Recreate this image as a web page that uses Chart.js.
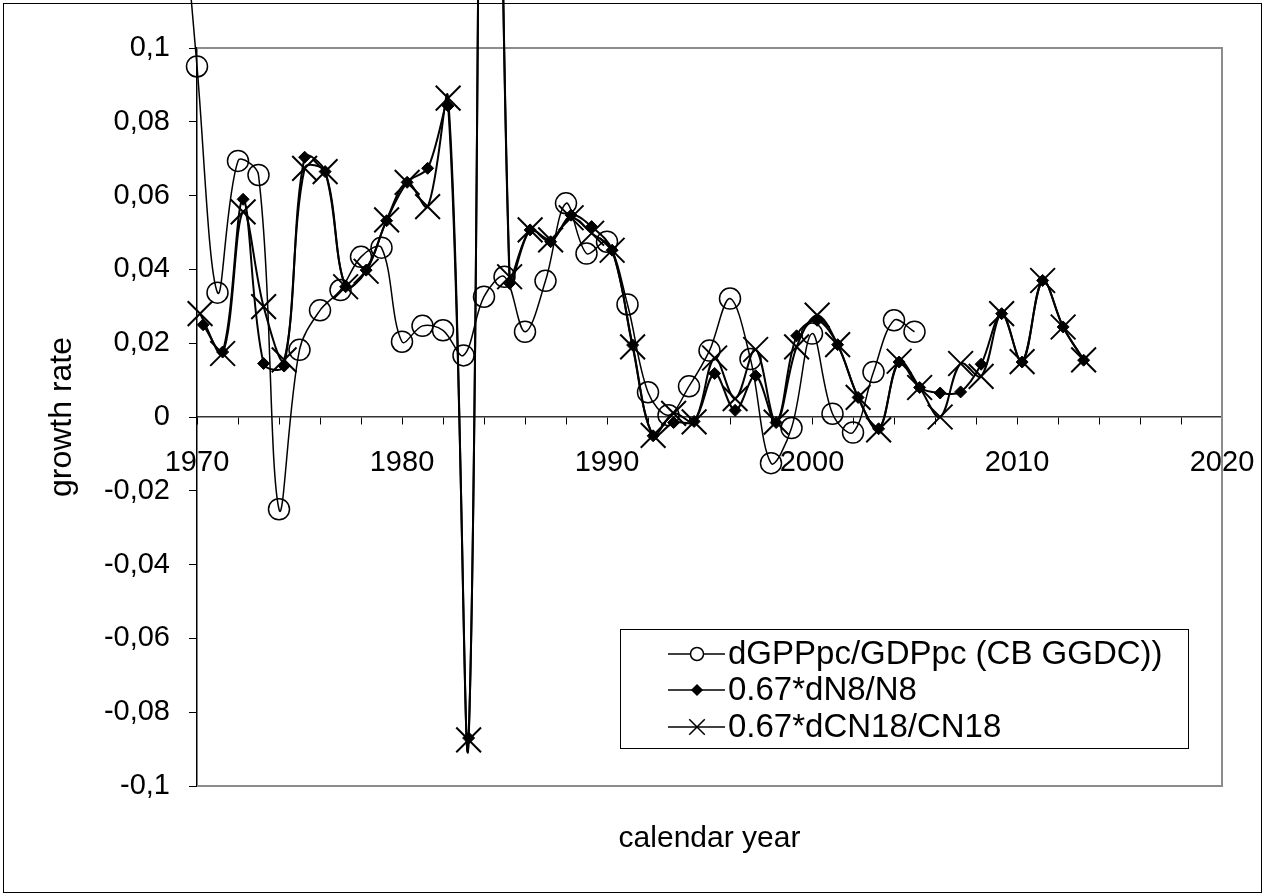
<!DOCTYPE html>
<html>
<head>
<meta charset="utf-8">
<title>growth rate</title>
<script src="https://cdn.jsdelivr.net/npm/chart.js@4.4.1/dist/chart.umd.min.js"></script>
<style>
  html, body { margin: 0; padding: 0; background: #fff; }
  canvas { display: block; }
</style>
</head>
<body>
<canvas id="growthChart" width="1265" height="896"></canvas>
<script>
// GDP per capita growth (CB GGDC), one value per calendar year
var gdpYears = [1969, 1970, 1971, 1972, 1973, 1974, 1975, 1976, 1977, 1978, 1979,
    1980, 1981, 1982, 1983, 1984, 1985, 1986, 1987, 1988, 1989,
    1990, 1991, 1992, 1993, 1994, 1995, 1996, 1997, 1998, 1999,
    2000, 2001, 2002, 2003, 2004, 2005];
var gdpValues = [0.16, 0.095, 0.0337, 0.0694, 0.0656, -0.025, 0.0182, 0.0289, 0.0344, 0.0434, 0.0459,
    0.0204, 0.0247, 0.0235, 0.0167, 0.0326, 0.038, 0.0231, 0.0369, 0.0579, 0.0443,
    0.0475, 0.0305, 0.0067, 0.0005, 0.0083, 0.018, 0.0321, 0.0157, -0.0125, -0.003,
    0.0226, 0.0009, -0.0042, 0.0122, 0.0262, 0.0231];

// 0.67*dN8/N8, mid-year points
var n8Years = [1970.3, 1971.25, 1972.25, 1973.25, 1974.25, 1975.25, 1976.25, 1977.25, 1978.25, 1979.25,
    1980.25, 1981.25, 1982.25, 1983.25, 1984.25, 1985.25, 1986.25, 1987.25, 1988.25, 1989.25,
    1990.25, 1991.25, 1992.25, 1993.25, 1994.25, 1995.25, 1996.25, 1997.25, 1998.25, 1999.25,
    2000.25, 2001.25, 2002.25, 2003.25, 2004.25, 2005.25, 2006.25, 2007.25, 2008.25, 2009.25,
    2010.25, 2011.25, 2012.25, 2013.25];
var n8Values = [0.025, 0.0176, 0.059, 0.0145, 0.0138, 0.0704, 0.0665, 0.0353, 0.0398, 0.0532,
    0.0636, 0.0674, 0.0843, -0.087, 0.4, 0.0362, 0.0507, 0.0475, 0.0547, 0.0516,
    0.0452, 0.0195, -0.0051, -0.0015, -0.0012, 0.0118, 0.0018, 0.0112, -0.0015, 0.022,
    0.0262, 0.0196, 0.0053, -0.0032, 0.0149, 0.008, 0.0065, 0.0068, 0.0143, 0.028,
    0.0149, 0.037, 0.0244, 0.0154];

// 0.67*dCN18/CN18
var cn18Years = [1970.15, 1971.25, 1972.25, 1973.25, 1974.25, 1975.25, 1976.25, 1977.25, 1978.25, 1979.25,
    1980.25, 1981.25, 1982.25, 1983.25, 1984.25, 1985.25, 1986.25, 1987.25, 1988.25, 1989.25,
    1990.25, 1991.25, 1992.25, 1993.25, 1994.25, 1995.25, 1996.25, 1997.25, 1998.25, 1999.25,
    2000.25, 2001.25, 2002.25, 2003.25, 2004.25, 2005.25, 2006.25, 2007.25, 2008.25, 2009.25,
    2010.25, 2011.25, 2012.25, 2013.25];
var cn18Values = [0.028, 0.0172, 0.0556, 0.0299, 0.0155, 0.0674, 0.0665, 0.0353, 0.0395, 0.0534,
    0.0636, 0.057, 0.0864, -0.0875, 0.4, 0.038, 0.0507, 0.048, 0.054, 0.0498,
    0.0452, 0.019, -0.005, 0.001, -0.0013, 0.016, 0.005, 0.0183, -0.0014, 0.019,
    0.0276, 0.0196, 0.0053, -0.0035, 0.0151, 0.008, 0.0, 0.0145, 0.011, 0.028,
    0.015, 0.037, 0.0244, 0.0155];

var xTickLabels = ['1970', '1980', '1990', '2000', '2010', '2020'];
var yTickLabels = ['-0,1', '-0,08', '-0,06', '-0,04', '-0,02', '0', '0,02', '0,04', '0,06', '0,08', '0,1'];

var FONT = '"Liberation Sans", Arial, sans-serif';

function toPoints(xs, ys) {
    return xs.map(function (x, i) { return { x: x, y: ys[i] }; });
}

// white page, outer frame and the grey plot box
var framePlugin = {
    id: 'frame',
    beforeDraw: function (chart) {
        var ctx = chart.ctx;
        ctx.save();
        ctx.fillStyle = '#fff';
        ctx.fillRect(0, 0, chart.width, chart.height);
        ctx.restore();
    },
    beforeDatasetsDraw: function (chart) {
        var a = chart.chartArea, ctx = chart.ctx;
        ctx.save();
        ctx.strokeStyle = '#8c8c8c';
        ctx.lineWidth = 2;
        ctx.beginPath();
        ctx.moveTo(a.left, a.top);
        ctx.lineTo(a.right, a.top);
        ctx.lineTo(a.right, a.bottom);
        ctx.lineTo(a.left, a.bottom);
        ctx.stroke();
        ctx.restore();
    },
    afterDraw: function (chart) {
        var ctx = chart.ctx;
        ctx.save();
        ctx.strokeStyle = '#000';
        ctx.lineWidth = 1;
        ctx.strokeRect(3.5, 3.5, chart.width - 7, chart.height - 7);
        ctx.restore();
    }
};

// boxed legend inside the plot, lower right
var boxLegend = {
    id: 'boxLegend',
    afterDraw: function (chart) {
        var ctx = chart.ctx;
        var box = { left: 620, top: 629, right: 1188, bottom: 748 };
        var rows = [654, 690, 727];
        var sizes = [6.5, 5, 11];
        ctx.save();
        ctx.fillStyle = '#fff';
        ctx.fillRect(box.left, box.top, box.right - box.left, box.bottom - box.top);
        ctx.strokeStyle = '#000';
        ctx.lineWidth = 1;
        ctx.strokeRect(box.left + 0.5, box.top + 0.5, box.right - box.left, box.bottom - box.top);
        chart.data.datasets.forEach(function (ds, i) {
            var y = rows[i];
            ctx.strokeStyle = '#000';
            ctx.lineWidth = 1.5;
            ctx.beginPath();
            ctx.moveTo(668, y);
            ctx.lineTo(725, y);
            ctx.stroke();
            ctx.fillStyle = ds.pointStyle === 'circle' ? '#fff' : '#000';
            Chart.helpers.drawPoint(ctx, {
                pointStyle: ds.pointStyle,
                rotation: 0,
                radius: sizes[i],
                borderWidth: 1.5
            }, 697, y);
            ctx.fillStyle = '#000';
            ctx.font = '33px ' + FONT;
            ctx.textAlign = 'left';
            ctx.textBaseline = 'middle';
            ctx.fillText(ds.label, 728, y + 1);
        });
        ctx.restore();
    }
};

var ctx = document.getElementById('growthChart');
var growthChart = new Chart(ctx, {
    type: 'line',
    data: {
        datasets: [{
            label: 'dGPPpc/GDPpc (CB GGDC))',
            data: toPoints(gdpYears, gdpValues),
            borderColor: '#000',
            borderWidth: 1.5,
            pointStyle: 'circle',
            pointRadius: 10.5,
            pointBorderWidth: 1.5,
            pointBorderColor: '#000',
            pointBackgroundColor: 'rgba(0,0,0,0)'
        }, {
            label: '0.67*dN8/N8',
            data: toPoints(n8Years, n8Values),
            borderColor: '#000',
            borderWidth: 2,
            pointStyle: 'rectRot',
            pointRadius: 6,
            pointBorderWidth: 1,
            pointBorderColor: '#000',
            pointBackgroundColor: '#000'
        }, {
            label: '0.67*dCN18/CN18',
            data: toPoints(cn18Years, cn18Values),
            borderColor: '#000',
            borderWidth: 2,
            pointStyle: 'crossRot',
            pointRadius: 17.5,
            pointBorderWidth: 2,
            pointBorderColor: '#000'
        }]
    },
    options: {
        responsive: false,
        animation: false,
        devicePixelRatio: 1,
        clip: false,
        layout: {
            padding: { left: 0, top: 48, right: 43, bottom: 4 }
        },
        elements: {
            line: { tension: 0.35, capBezierPoints: false, fill: false }
        },
        datasets: {
            line: { clip: false }
        },
        scales: {
            x: {
                type: 'linear',
                position: { y: 0 },
                min: 1970,
                max: 2020,
                afterFit: function (scale) {
                    scale.height = 0;
                    scale.paddingLeft = 0;
                    scale.paddingRight = 0;
                },
                border: { display: true, color: '#333', width: 1.5 },
                grid: { drawOnChartArea: false, drawTicks: true, tickLength: 7, tickColor: '#000', lineWidth: 1 },
                ticks: {
                    stepSize: 2,
                    autoSkip: false,
                    maxRotation: 0,
                    padding: 22,
                    color: '#000',
                    font: { family: FONT, size: 29 },
                    callback: function (value) {
                        var label = xTickLabels.find(function (l) { return Number(l) === value; });
                        return label || '';
                    }
                }
            },
            y: {
                min: -0.1,
                max: 0.1,
                afterFit: function (scale) { scale.width = 197; },
                border: { display: true, color: '#000', width: 1.5 },
                grid: { drawOnChartArea: false, drawTicks: true, tickLength: 8, tickColor: '#000', lineWidth: 1 },
                ticks: {
                    stepSize: 0.02,
                    padding: 19,
                    color: '#000',
                    font: { family: FONT, size: 29 },
                    callback: function (value, index) { return yTickLabels[index]; }
                },
                title: {
                    display: true,
                    text: 'growth rate',
                    color: '#000',
                    font: { family: FONT, size: 32 },
                    padding: { top: 43, bottom: 0 }
                }
            }
        },
        plugins: {
            legend: { display: false },
            tooltip: { enabled: false },
            title: {
                display: true,
                position: 'bottom',
                fullSize: false,
                text: 'calendar year',
                color: '#000',
                font: { family: FONT, size: 30, weight: 'normal' },
                padding: { top: 35, bottom: 35 }
            }
        }
    },
    plugins: [framePlugin, boxLegend]
});
</script>
</body>
</html>
